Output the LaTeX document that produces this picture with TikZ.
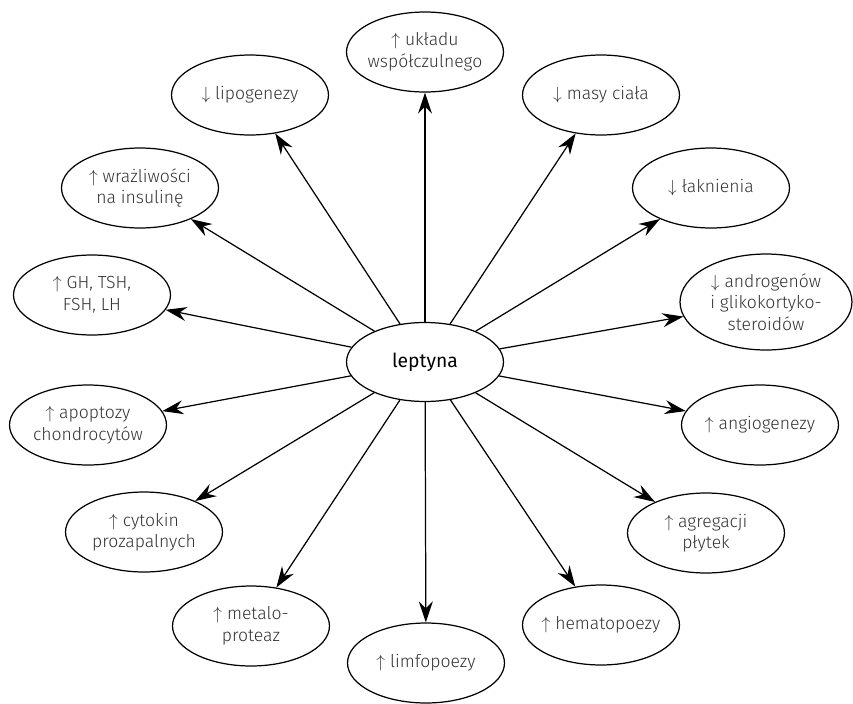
\documentclass[tikz,border=0pt]{standalone}
\usepackage{fontspec}
\setmainfont{Fira Sans}[UprightFont=* Light]
\newfontfamily\lepfont{Fira Sans}
\usepackage{tikz}
\usetikzlibrary{shapes.geometric,arrows.meta}

\begin{document}
\begin{tikzpicture}[x=0.02cm,y=-0.02cm,
  oval/.style={draw,ellipse,line width=0.7pt,minimum width=3.14cm,minimum height=1.6cm,inner sep=0pt},
  lab/.style={align=center,text=black!80,font=\fontsize{10}{12.3}\selectfont,inner sep=0pt},
  arr/.style={-{Stealth[length=4.2mm,width=2.8mm,inset=1.4mm]},line width=0.7pt}]
\useasboundingbox (0,0) rectangle (853,704);
\node[oval,minimum height=1.58cm] (lep) at (425,362) {};
\node[inner sep=0pt,font=\lepfont\fontsize{11}{13}\selectfont] (lep-t) at (lep) {leptyna};
\node[oval] (ukl) at (425,52) {};
\node[lab] (ukl-t) at (ukl) {$\uparrow$ układu\\współczulnego};
\node[oval] (masy) at (601,95) {};
\node[lab] (masy-t) at (masy) {$\downarrow$ masy ciała};
\node[oval] (lak) at (711,188) {};
\node[lab] (lak-t) at (lak) {$\downarrow$ łaknienia};
\node[oval,minimum width=3.44cm,minimum height=1.92cm] (andr) at (766,302) {};
\node[lab] (andr-t) at (andr) {$\downarrow$ androgenów\\i glikokortyko-\\steroidów};
\node[oval] (angio) at (760,425) {};
\node[lab] (angio-t) at (angio) {$\uparrow$ angiogenezy};
\node[oval] (agreg) at (706,533) {};
\node[lab] (agreg-t) at (agreg) {$\uparrow$ agregacji\\płytek};
\node[oval] (hemato) at (601,625) {};
\node[lab] (hemato-t) at (hemato) {$\uparrow$ hematopoezy};
\node[oval] (limfo) at (426,663) {};
\node[lab] (limfo-t) at (limfo) {$\uparrow$ limfopoezy};
\node[oval] (metalo) at (251,626) {};
\node[lab] (metalo-t) at (metalo) {$\uparrow$ metalo-\\proteaz};
\node[oval] (cyto) at (144,532) {};
\node[lab] (cyto-t) at (cyto) {$\uparrow$ cytokin\\prozapalnych};
\node[oval] (apop) at (88,425) {};
\node[lab] (apop-t) at (apop) {$\uparrow$ apoptozy\\chondrocytów};
\node[oval] (gh) at (92,295) {};
\node[lab] (gh-t) at (gh) {$\uparrow$ GH, TSH,\\FSH, LH};
\node[oval] (wraz) at (140,188) {};
\node[lab] (wraz-t) at (wraz) {$\uparrow$ wrażliwości\\na insulinę};
\node[oval] (lipo) at (250,95) {};
\node[lab] (lipo-t) at (lipo) {$\downarrow$ lipogenezy};
\draw[arr] (lep) -- (ukl);
\draw[arr] (lep) -- (masy);
\draw[arr] (lep) -- (lak);
\draw[arr] (lep) -- (andr);
\draw[arr] (lep) -- (angio);
\draw[arr] (lep) -- (agreg);
\draw[arr] (lep) -- (hemato);
\draw[arr] (lep) -- (limfo);
\draw[arr] (lep) -- (metalo);
\draw[arr] (lep) -- (cyto);
\draw[arr] (lep) -- (apop);
\draw[arr] (lep) -- (gh);
\draw[arr] (lep) -- (wraz);
\draw[arr] (lep) -- (lipo);
\end{tikzpicture}
\end{document}
